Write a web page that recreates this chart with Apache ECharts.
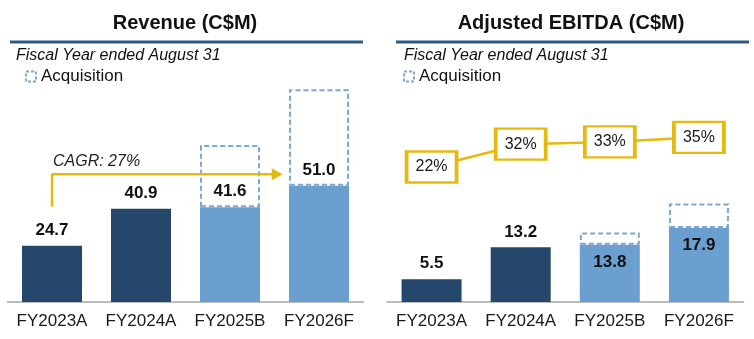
<!DOCTYPE html>
<html><head><meta charset="utf-8">
<script src="https://cdn.jsdelivr.net/npm/echarts@6/dist/echarts.min.js"></script>
<style>html,body{margin:0;padding:0;background:#fff}#c{width:754px;height:339px}</style>
</head><body><div id="c"></div>
<script>
// ---- data ----
const categories = ['FY2023A', 'FY2024A', 'FY2025B', 'FY2026F'];
const revenue = [24.7, 40.9, 41.6, 51.0];
const revenueAcquisition = [null, null, 27.3, 42.3];
const ebitda = [5.5, 13.2, 13.8, 17.9];
const ebitdaAcquisition = [null, null, 3.0, 5.9];
const ebitdaMargin = [22, 32, 33, 35];
const cagrText = 'CAGR: 27%';
const cagrPath = [[0, 41.8], [0, 56.0], [2.53, 56.0]];
const titles = ['Revenue (C$M)', 'Adjusted EBITDA (C$M)'];
const subtitle = 'Fiscal Year ended August 31';
const legendName = 'Acquisition';

// ---- styles ----
const DARK = '#25476B', LIGHT = '#6A9FD0', DASH = '#7EA6CF', GOLD = '#E6B90F', RULE = '#2F5A85';
const FONT = '"Liberation Sans", Arial, sans-serif';

const chart = echarts.init(document.getElementById('c'));

function barItems(vals, insideFrom) {
  return vals.map((v, i) => ({
    value: v,
    itemStyle: { color: i < 2 ? DARK : LIGHT },
    label: (insideFrom != null && i >= insideFrom) ? { position: 'insideTop', distance: 9 } : {}
  }));
}
const valueLabel = { show: true, position: 'top', distance: 7, fontSize: 17, fontWeight: 'bold', color: '#111', fontFamily: FONT,
  formatter: (p) => Number(p.value).toFixed(1) };
const acqStyle = { color: 'rgba(255,255,255,0)', borderColor: DASH, borderWidth: 2, borderType: [5, 3] };
const catAxis = (g) => ({
  type: 'category', gridIndex: g, data: categories,
  axisLine: { lineStyle: { color: '#A6A6A6', width: 1.5 } },
  axisTick: { show: false },
  axisLabel: { interval: 0, fontSize: 17, color: '#1a1a1a', fontFamily: FONT, margin: 11 }
});
const legendCfg = (left) => ({
  data: [legendName], left: left, top: 68, padding: 0, itemWidth: 10, itemHeight: 10, icon: 'rect',
  itemStyle: { color: 'rgba(255,255,255,0)', borderColor: DASH, borderWidth: 2, borderType: [3, 2] },
  selectedMode: false, textStyle: { fontSize: 17, color: '#111', fontFamily: FONT }
});

const cagrData = cagrPath.map((p, i) => {
  const d = { value: p };
  if (i === 1) d.label = { show: true, position: 'right', distance: 1, offset: [0, -13], formatter: cagrText,
    fontSize: 16, fontStyle: 'italic', color: '#222', fontFamily: FONT };
  if (i === 2) { d.symbol = 'triangle'; d.symbolSize = [12, 11]; d.symbolRotate = -90; }
  return d;
});

chart.setOption({
  animation: false,
  grid: [
    { left: 7.5, width: 356, top: 74, bottom: 37 },
    { left: 387, width: 356.5, top: 95, bottom: 37 }
  ],
  xAxis: [catAxis(0), catAxis(1), { type: 'value', gridIndex: 0, min: -0.5, max: 3.5, show: false }],
  yAxis: [
    { type: 'value', gridIndex: 0, min: 0, max: 100, show: false },
    { type: 'value', gridIndex: 1, min: 0, max: 50, show: false },
    { type: 'value', gridIndex: 1, min: -37, max: 53.5, show: false }
  ],
  legend: [legendCfg(25), legendCfg(403)],
  series: [
    { type: 'bar', name: 'Revenue', xAxisIndex: 0, yAxisIndex: 0, stack: 'rev', barWidth: 60,
      data: barItems(revenue), label: valueLabel },
    { type: 'bar', name: legendName, xAxisIndex: 0, yAxisIndex: 0, stack: 'rev', barWidth: 60,
      data: revenueAcquisition, itemStyle: acqStyle },
    { type: 'bar', name: 'Adjusted EBITDA', xAxisIndex: 1, yAxisIndex: 1, stack: 'eb', barWidth: 60,
      data: barItems(ebitda, 2), label: valueLabel },
    { type: 'bar', name: legendName, xAxisIndex: 1, yAxisIndex: 1, stack: 'eb', barWidth: 60,
      data: ebitdaAcquisition, itemStyle: acqStyle },
    { type: 'line', name: 'Margin', xAxisIndex: 1, yAxisIndex: 2, data: ebitdaMargin, z: 5,
      symbol: 'rect', symbolSize: [50, 31],
      itemStyle: { color: '#fff', borderColor: GOLD, borderWidth: 3 },
      lineStyle: { color: GOLD, width: 2.5 },
      label: { show: true, position: 'inside', formatter: '{c}%', fontSize: 16, color: '#1a1a1a', fontFamily: FONT } },
    { type: 'line', name: 'CAGR', xAxisIndex: 2, yAxisIndex: 0, data: cagrData, z: 4,
      symbol: 'circle', symbolSize: 0,
      itemStyle: { color: GOLD }, lineStyle: { color: GOLD, width: 2.5 } }
  ],
  graphic: [
    { type: 'text', x: 185, y: 23, style: { text: titles[0], font: 'bold 20px ' + FONT, align: 'center', verticalAlign: 'middle', fill: '#111' } },
    { type: 'text', x: 571, y: 23, style: { text: titles[1], font: 'bold 20px ' + FONT, align: 'center', verticalAlign: 'middle', fill: '#111' } },
    { type: 'line', shape: { x1: 10, y1: 42, x2: 363, y2: 42 }, style: { stroke: RULE, lineWidth: 3 } },
    { type: 'line', shape: { x1: 396, y1: 42, x2: 749, y2: 42 }, style: { stroke: RULE, lineWidth: 3 } },
    { type: 'text', x: 16, y: 56, style: { text: subtitle, font: 'italic 16px ' + FONT, align: 'left', verticalAlign: 'middle', fill: '#111' } },
    { type: 'text', x: 404, y: 56, style: { text: subtitle, font: 'italic 16px ' + FONT, align: 'left', verticalAlign: 'middle', fill: '#111' } }
  ]
});
</script>
</body></html>
